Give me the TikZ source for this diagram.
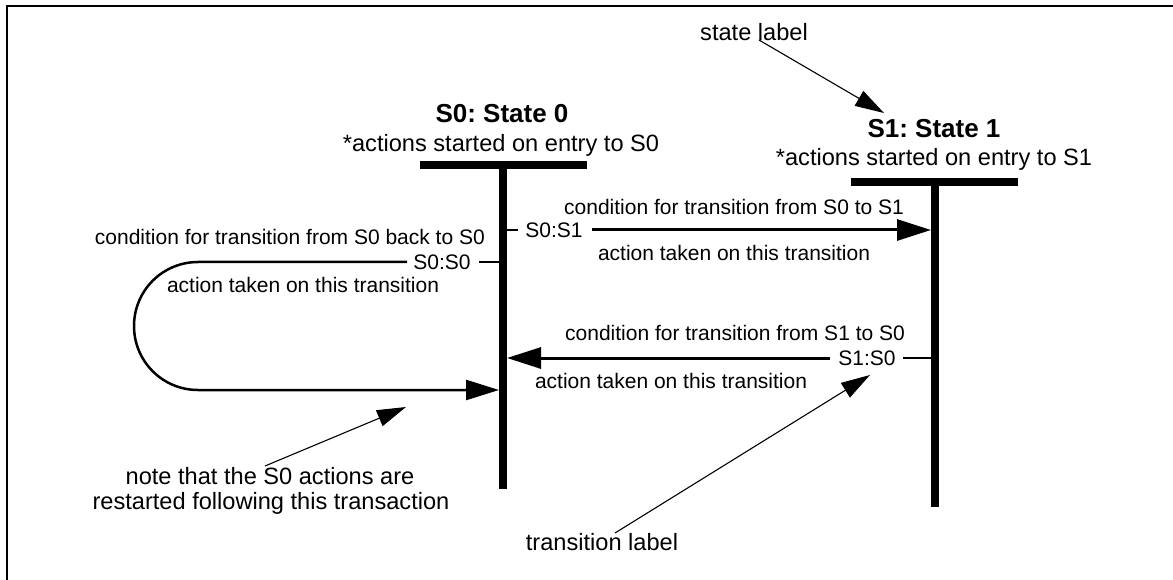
\documentclass[tikz,border=0pt]{standalone}
\usepackage{fontspec}
\setmainfont{Liberation Sans}
\usetikzlibrary{arrows.meta}
\frenchspacing
\begin{document}
\begin{tikzpicture}[x=1pt,y=-1pt,
  every node/.style={inner sep=0pt, text depth=0pt},
  big/.style={font=\fontsize{23.6}{27}\selectfont, text height=17pt},
  small/.style={font=\fontsize{21}{25}\selectfont, text height=15.1pt},
  titletext/.style={font=\fontsize{26}{30}\selectfont\bfseries, text height=18.7pt},
  bar/.style={line width=8pt},
  trans/.style={line width=3pt, -{Triangle[length=34pt,width=21pt]}},
  loopline/.style={line width=2.5pt, -{Triangle[length=33pt,width=20pt]}},
  tickline/.style={line width=2.5pt},
  pointer/.style={line width=1.1pt, -{Triangle[length=29pt,width=17pt]}},
  frameline/.style={line width=2pt}]
\useasboundingbox (0,0) rectangle (1173,580);

% frame
\coordinate (fbl) at (7,580);
\coordinate (ftl) at (7,6);
\coordinate (ftr) at (1173,6);
\draw[frameline] (fbl) -- (ftl) -- (ftr);

% state S0
\node[titletext] (s0t) at (502,113) {S0: State 0};
\node[big] (s0a) at (501,143) {*actions started on entry to S0};
\coordinate (s0l) at (420,165);
\coordinate (s0r) at (587,165);
\coordinate (s0top) at (503,165);
\coordinate (s0bot) at (503,489);
\draw[bar] (s0l) -- (s0r);
\draw[bar] (s0top) -- (s0bot);

% state S1
\node[titletext] (s1t) at (934,128) {S1: State 1};
\node[big] (s1a) at (934,157) {*actions started on entry to S1};
\coordinate (s1l) at (851,182);
\coordinate (s1r) at (1018,182);
\coordinate (s1top) at (935,182);
\coordinate (s1bot) at (935,507);
\draw[bar] (s1l) -- (s1r);
\draw[bar] (s1top) -- (s1bot);

% transition S0:S1
\node[small] (t01) at (554,230) {S0:S1};
\node[small] (c01) at (734,207) {condition for transition from S0 to S1};
\node[small] (a01) at (734,253) {action taken on this transition};
\coordinate (t01a) at (507,230);
\coordinate (t01b) at (518,230);
\coordinate (t01c) at (592,230);
\coordinate (t01d) at (931,230);
\draw[tickline] (t01a) -- (t01b);
\draw[trans] (t01c) -- (t01d);

% transition S0:S0
\node[small] (t00) at (442,262) {S0:S0};
\node[small, anchor=east] (c00) at (485,237) {condition for transition from S0 back to S0};
\node[small] (a00) at (303,285) {action taken on this transition};
\coordinate (t00a) at (499,262);
\coordinate (t00b) at (479,262);
\coordinate (t00c) at (407,262);
\coordinate (t00d) at (198,262);
\coordinate (t00e) at (134,326);
\coordinate (t00f) at (198,390);
\coordinate (t00g) at (499,390);
\draw[tickline] (t00a) -- (t00b);
\draw[loopline] (t00c) -- (t00d)
  .. controls (162.6,262) and (134,290.6) .. (t00e)
  .. controls (134,361.4) and (162.6,390) .. (t00f) -- (t00g);

% transition S1:S0
\node[small] (t10) at (867,358) {S1:S0};
\node[small] (c10) at (735,333) {condition for transition from S1 to S0};
\node[small] (a10) at (671,381) {action taken on this transition};
\coordinate (t10a) at (931,358);
\coordinate (t10b) at (903,358);
\coordinate (t10c) at (830,358);
\coordinate (t10d) at (507,358);
\draw[tickline] (t10a) -- (t10b);
\draw[trans] (t10c) -- (t10d);

% annotations
\node[big] (sl) at (754,32) {state label};
\coordinate (slf) at (759,40);
\coordinate (slt) at (884,113);
\draw[pointer] (slf) -- (slt);

\node[big] (tl) at (602,542) {transition label};
\coordinate (tlf) at (615,533);
\coordinate (tlt) at (870,375);
\draw[pointer] (tlf) -- (tlt);

\node[big] (n1) at (270,476) {note that the S0 actions are};
\node[big] (n2) at (271,501) {restarted following this transaction};
\coordinate (nf) at (265,466);
\coordinate (nt) at (406,407);
\draw[pointer] (nf) -- (nt);
\end{tikzpicture}
\end{document}
